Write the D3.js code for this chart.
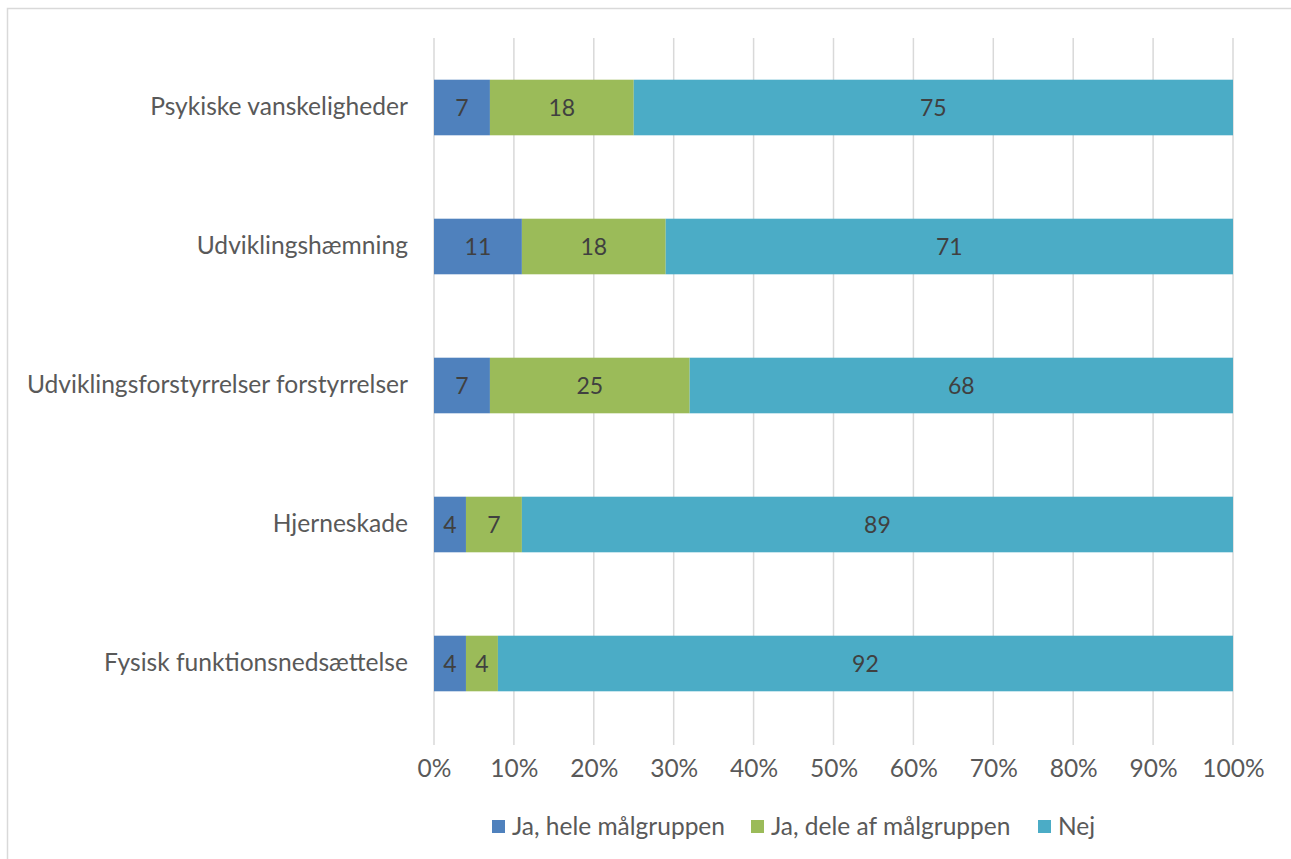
<!DOCTYPE html>
<html><head><meta charset="utf-8">
<script src="https://cdn.jsdelivr.net/npm/d3@7"></script>
<style>body{margin:0;background:#fff;}svg{display:block;font-family:Lato,"Open Sans",sans-serif;}</style>
</head><body><svg id="c" width="1291" height="859"></svg>
<script>
const categories = ["Psykiske vanskeligheder","Udviklingshæmning","Udviklingsforstyrrelser forstyrrelser","Hjerneskade","Fysisk funktionsnedsættelse"];
const seriesNames = ["Ja, hele målgruppen","Ja, dele af målgruppen","Nej"];
const jaHele = [7,11,7,4,4];
const jaDele = [18,18,25,7,4];
const nej = [75,71,68,89,92];
const ticks = [0,10,20,30,40,50,60,70,80,90,100];
const colors = ["#4F81BD","#9BBB59","#4BACC6"];

const svg = d3.select("#c");
svg.append("rect").attr("x",7.5).attr("y",8.5).attr("width",1400).attr("height",1000)
  .attr("fill","none").attr("stroke","#d9d9d9").attr("stroke-width",1.5);

const x = d3.scaleLinear().domain([0,100]).range([434,1233]);
const y = d3.scaleBand().domain(categories).range([38,733]).paddingInner(0.6).paddingOuter(0.3);

svg.append("g").selectAll("line").data(ticks).join("line")
  .attr("x1",d=>x(d)).attr("x2",d=>x(d)).attr("y1",38).attr("y2",745)
  .attr("stroke","#d9d9d9").attr("stroke-width",1.5);

const xAxis = svg.append("g").attr("transform","translate(0,745)")
  .call(d3.axisBottom(x).tickValues(ticks).tickFormat(d=>d+"%").tickSize(0).tickPadding(15));
xAxis.select(".domain").remove();
xAxis.selectAll("text").attr("fill","#595959").style("font-size","24.5px").style("font-family","Lato, sans-serif");

const yAxis = svg.append("g").attr("transform","translate(434,0)")
  .call(d3.axisLeft(y).tickSize(0).tickPadding(26));
yAxis.select(".domain").remove();
yAxis.selectAll("text").attr("fill","#595959").style("font-size","24.6px").style("font-family","Lato, sans-serif");

const data = categories.map((c,i)=>({cat:c,"Ja, hele målgruppen":jaHele[i],"Ja, dele af målgruppen":jaDele[i],"Nej":nej[i]}));
const stack = d3.stack().keys(seriesNames)(data);

const g = svg.append("g");
stack.forEach((s,si)=>{
  g.selectAll(null).data(s).join("rect")
    .attr("x",d=>x(d[0])).attr("width",d=>x(d[1])-x(d[0]))
    .attr("y",d=>y(d.data.cat)).attr("height",y.bandwidth())
    .attr("fill",colors[si]);
  g.selectAll(null).data(s).join("text")
    .attr("x",d=>(x(d[0])+x(d[1]))/2).attr("y",d=>y(d.data.cat)+y.bandwidth()/2)
    .attr("dy","0.36em").attr("text-anchor","middle")
    .attr("fill","#404040").style("font-size","23px")
    .text(d=>d[1]-d[0]);
});

const legX = [492,751,1038];
const leg = svg.append("g");
seriesNames.forEach((n,i)=>{
  leg.append("rect").attr("x",legX[i]).attr("y",820).attr("width",13).attr("height",13).attr("fill",colors[i]);
  leg.append("text").attr("x",legX[i]+20).attr("y",826).attr("dy","0.36em")
    .attr("fill","#595959").style("font-size","24.5px").text(n);
});
</script></body></html>
